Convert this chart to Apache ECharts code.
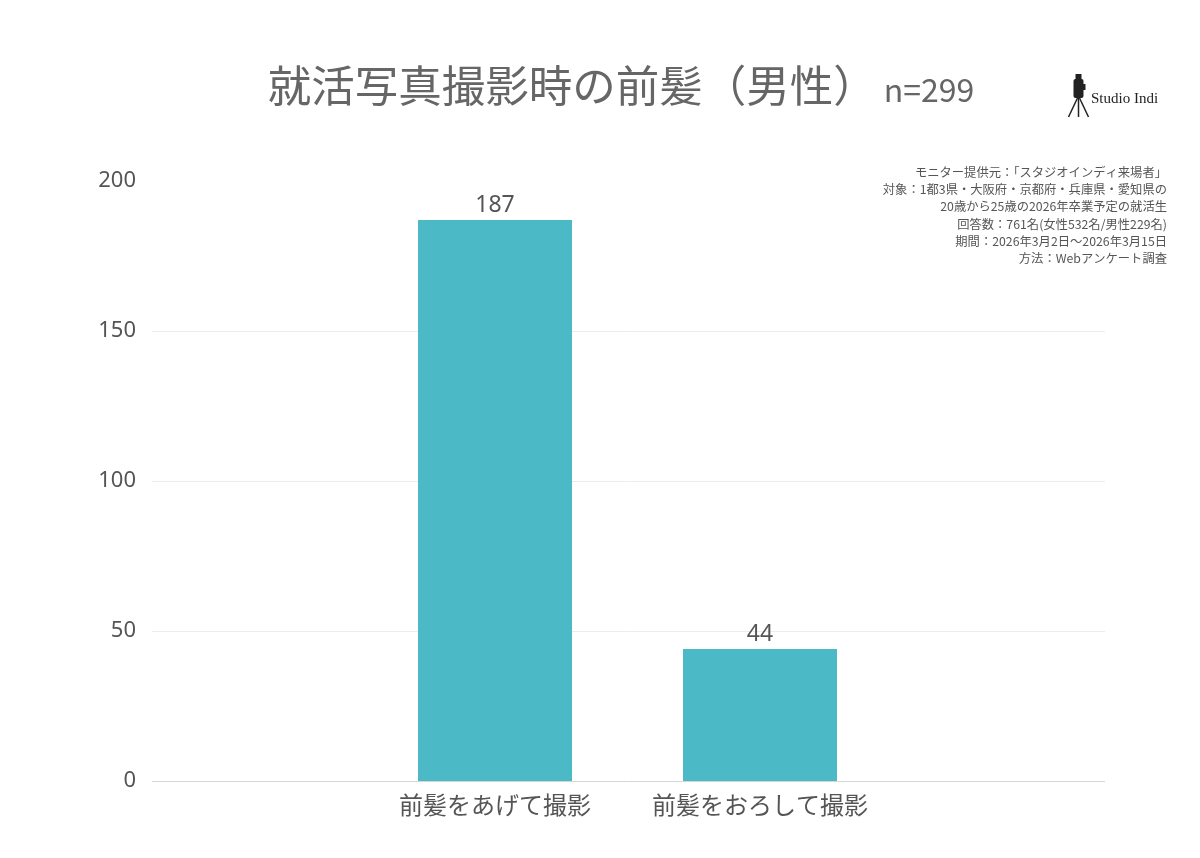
<!DOCTYPE html>
<html><head><meta charset="utf-8">
<script src="https://cdn.jsdelivr.net/npm/echarts@6/dist/echarts.min.js"></script>
<style>html,body{margin:0;padding:0;background:#fff}#c{width:1200px;height:858px}</style>
</head><body><div id="c"></div>
<script>
const categories = ['前髪をあげて撮影', '前髪をおろして撮影'];
const values = [187, 44];
const yTicks = [0, 50, 100, 150, 200];
const titleMain = '就活写真撮影時の前髪（男性）';
const titleN = 'n=299';
const notes = [
  'モニター提供元：「スタジオインディ来場者」',
  '対象：1都3県・大阪府・京都府・兵庫県・愛知県の',
  '20歳から25歳の2026年卒業予定の就活生',
  '回答数：761名(女性532名/男性229名)',
  '期間：2026年3月2日〜2026年3月15日',
  '方法：Webアンケート調査'
];
const FONT = '"Noto Sans CJK JP","Noto Sans",sans-serif';
const chart = echarts.init(document.getElementById('c'), null, {renderer:'canvas'});
const gridColors = yTicks.map((v,i)=> i===0 ? '#d6d6d6' : (i===yTicks.length-1 ? 'rgba(0,0,0,0)' : '#ececec'));
const noteEls = notes.map((t,i)=>({type:'text', right:33, top:166+i*17.3,
  style:{text:t, fontSize:12.3, fill:'#555', fontFamily:FONT}}));
chart.setOption({
  backgroundColor:'#fff',
  animation:false,
  title:{
    text:'{m|'+titleMain+'}{n| '+titleN+'}',
    left:616, top:59, textAlign:'center',
    textStyle:{fontWeight:'normal', rich:{
      m:{fontSize:43.5, color:'#666', fontWeight:'normal', fontFamily:FONT},
      n:{fontSize:32, color:'#666', fontWeight:'normal', fontFamily:FONT, padding:[8,0,0,0]}
    }}
  },
  grid:[
    {left:152, right:95, top:181, bottom:77},
    {left:362.5, right:307.5, top:181, bottom:77}
  ],
  xAxis:[
    {gridIndex:0, type:'category', data:[''], axisLine:{show:false}, axisTick:{show:false}, axisLabel:{show:false}},
    {gridIndex:1, type:'category', data:categories, axisLine:{show:false}, axisTick:{show:false},
     axisLabel:{interval:0, hideOverlap:false, fontSize:24, color:'#555', fontFamily:FONT, margin:12}}
  ],
  yAxis:[
    {gridIndex:0, type:'value', min:0, max:200, interval:50,
     axisLine:{show:false}, axisTick:{show:false},
     axisLabel:{fontSize:22, color:'#555', fontFamily:'"Noto Sans",sans-serif', margin:16, padding:[3,0,0,0]},
     splitLine:{show:true, lineStyle:{color:gridColors, width:1}}},
    {gridIndex:1, type:'value', min:0, max:200, interval:50, show:false, splitLine:{show:false}}
  ],
  series:[{
    type:'bar', xAxisIndex:1, yAxisIndex:1, data:values, barWidth:154,
    itemStyle:{color:'#4BBAC6'},
    label:{show:true, position:'top', distance:3, fontSize:23, color:'#555', fontFamily:'"Noto Sans",sans-serif'}
  }],
  graphic:noteEls.concat([
    {type:'group', left:1066, top:74, children:[
      {type:'rect', shape:{x:6, y:5, width:10, height:19, r:2}, style:{fill:'#222'}},
      {type:'rect', shape:{x:8, y:0, width:6, height:6}, style:{fill:'#222'}},
      {type:'rect', shape:{x:15, y:10, width:3, height:6}, style:{fill:'#222'}},
      {type:'line', shape:{x1:10, y1:24, x2:1, y2:43}, style:{stroke:'#222', lineWidth:1.5}},
      {type:'line', shape:{x1:11, y1:24, x2:11, y2:43}, style:{stroke:'#222', lineWidth:1.5}},
      {type:'line', shape:{x1:12, y1:24, x2:21, y2:43}, style:{stroke:'#222', lineWidth:1.5}}
    ]},
    {type:'text', left:1091, top:92, style:{text:'Studio Indi', fontSize:15, fill:'#222', fontFamily:'"Liberation Serif","DejaVu Serif",serif'}}
  ])
});
</script></body></html>
